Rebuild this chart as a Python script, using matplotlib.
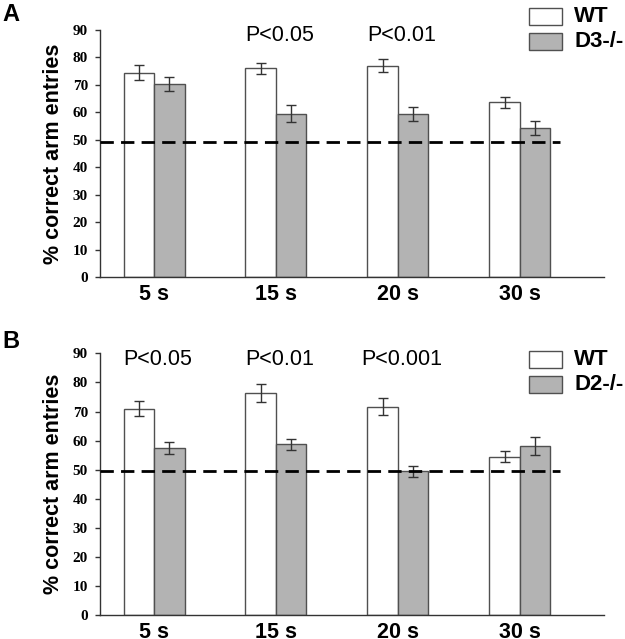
import matplotlib
matplotlib.use("Agg")
import matplotlib.pyplot as plt
import numpy as np
from matplotlib.patches import Rectangle

# ---- data ----
delays = ["5 s", "15 s", "20 s", "30 s"]
wt_a = [74.5, 76.0, 77.0, 63.6]
wt_a_err = [2.8, 2.1, 2.4, 2.1]
d3_a = [70.3, 59.5, 59.5, 54.4]
d3_a_err = [2.4, 3.2, 2.5, 2.6]
pvals_a = ["", "P<0.05", "P<0.01", ""]

wt_b = [70.9, 76.3, 71.7, 54.5]
wt_b_err = [2.6, 3.0, 2.9, 1.8]
d2_b = [57.5, 58.7, 49.4, 58.1]
d2_b_err = [2.2, 1.9, 1.9, 3.1]
pvals_b = ["P<0.05", "P<0.01", "P<0.001", ""]

chance_a = 49.3
chance_b = 49.7

W, H = 625, 639
fig = plt.figure(figsize=(W / 100, H / 100), dpi=100)

def fx(px):
    return px / W

def fy(py):
    return 1 - py / H

SANS = "Liberation Sans"
SERIF = "Liberation Serif"
GRAY = "#b3b3b3"
EDGE = "#505050"

def panel(top_px, bot_px, wt, wt_err, ko, ko_err, pvals, chance, ko_label, letter, letter_y, legend_y):
    ax = fig.add_axes([fx(100), fy(bot_px), fx(604) - fx(100), fy(top_px) - fy(bot_px)])
    x = np.arange(len(delays))
    bw = 0.25
    ax.bar(x - bw / 2, wt, bw, color="white", edgecolor=EDGE, linewidth=1.0, zorder=2)
    ax.bar(x + bw / 2, ko, bw, color=GRAY, edgecolor=EDGE, linewidth=1.0, zorder=2)
    ax.errorbar(x - bw / 2, wt, yerr=wt_err, fmt="none", ecolor="#333333",
                elinewidth=1.0, capsize=3.5, capthick=1.0, zorder=3)
    ax.errorbar(x + bw / 2, ko, yerr=ko_err, fmt="none", ecolor="#333333",
                elinewidth=1.0, capsize=3.5, capthick=1.0, zorder=3)
    xl, xr = -0.443, 3.69
    ax.set_xlim(xl, xr)
    ax.set_ylim(0, 90)
    ax.plot([xl, 3.33], [chance, chance], color="black", linewidth=2.0,
            dashes=(4.8, 2.6), zorder=4, clip_on=False)
    for sp in ["top", "right"]:
        ax.spines[sp].set_visible(False)
    for sp in ["left", "bottom"]:
        ax.spines[sp].set_color("#333333")
        ax.spines[sp].set_linewidth(1.0)
    ax.set_yticks(range(0, 91, 10))
    ax.set_yticklabels([str(v) for v in range(0, 91, 10)],
                       fontfamily=SERIF, fontweight="bold", fontsize=11)
    ax.tick_params(axis="y", length=3.6, width=1.0, pad=5.0, color="#333333")
    ax.set_xticks(x)
    ax.set_xticklabels(delays, fontfamily=SANS, fontweight="bold", fontsize=15.5)
    ax.tick_params(axis="x", length=0, pad=5)
    ax.set_ylabel("% correct arm entries", fontfamily=SANS, fontweight="bold",
                  fontsize=15.5, labelpad=6)
    for xi, p in zip(x, pvals):
        if p:
            ax.text(xi + 0.03, 88, p, ha="center", va="center", fontfamily=SANS,
                    fontsize=15.5)
    # panel letter
    fig.text(fx(2), fy(letter_y), letter, fontfamily=SANS, fontweight="bold",
             fontsize=17, ha="left", va="top")
    # legend
    for i, (lab, col) in enumerate([("WT", "white"), (ko_label, GRAY)]):
        y0 = legend_y + i * 25
        fig.add_artist(Rectangle((fx(529), fy(y0 + 17)), fx(562) - fx(529),
                                 fy(y0) - fy(y0 + 17), facecolor=col,
                                 edgecolor=EDGE, linewidth=1.0,
                                 transform=fig.transFigure))
        fig.text(fx(574), fy(y0 + 8.5), lab, fontfamily=SANS, fontweight="bold",
                 fontsize=16, ha="left", va="center")
    return ax

panel(30, 277, wt_a, wt_a_err, d3_a, d3_a_err, pvals_a, chance_a, "D3-/-", "A", 3, 8)
panel(353.3, 615.3, wt_b, wt_b_err, d2_b, d2_b_err, pvals_b, chance_b, "D2-/-", "B", 330, 351)

fig.savefig("out.png", dpi=100)
